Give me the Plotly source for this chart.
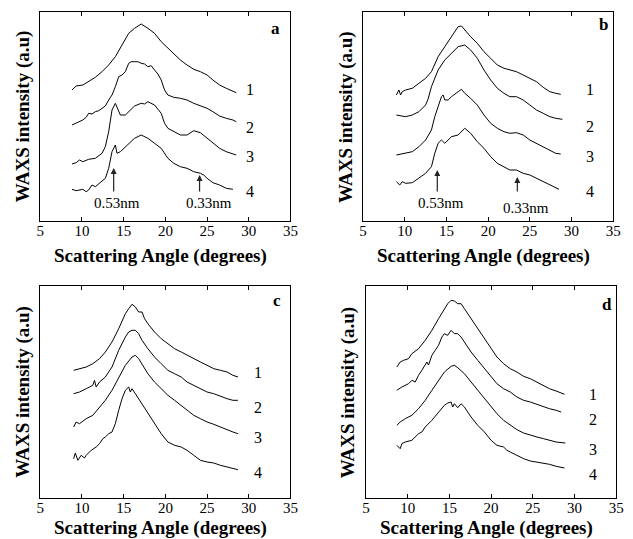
import plotly.graph_objects as go

# ---------------- WAXS patterns (scattering angle in degrees, intensity in a.u., stacked) ----------------
# Panel a
a1_x = [8.8, 9.3, 10.1, 10.8, 11.6, 12.4, 13.2, 14.0, 14.8, 15.6, 16.3, 17.1, 17.9, 18.7, 19.5, 20.3, 21.0, 21.8, 22.6, 23.4, 24.2, 25.0, 25.7, 26.5, 27.3, 28.1, 28.5]
a1_y = [131.0, 135.0, 136.0, 139.3, 143.7, 149.3, 156.0, 164.3, 176.0, 187.7, 192.7, 197.0, 192.7, 187.7, 179.3, 172.7, 167.7, 161.0, 156.0, 151.7, 149.3, 146.0, 141.0, 136.0, 132.7, 129.3, 128.3]
a2_x = [8.8, 9.5, 10.1, 10.5, 10.8, 11.2, 11.6, 12.0, 12.4, 12.8, 13.2, 13.6, 14.0, 14.4, 14.8, 15.2, 15.6, 15.9, 16.3, 16.7, 17.1, 17.5, 17.9, 18.3, 18.7, 19.1, 19.5, 19.9, 20.3, 21.0, 21.8, 22.6, 23.4, 24.2, 25.0, 25.7, 26.5, 27.3, 28.1, 28.5]
a2_y = [96.0, 98.3, 101.0, 103.7, 107.7, 107.0, 109.3, 110.3, 112.7, 115.0, 121.0, 126.0, 134.3, 144.3, 146.0, 149.3, 157.7, 159.3, 159.3, 159.3, 157.7, 157.0, 154.3, 155.3, 151.0, 147.0, 141.0, 131.0, 126.0, 123.7, 122.7, 121.0, 117.7, 115.0, 112.7, 109.3, 105.0, 102.7, 101.0, 99.3]
a3_x = [8.8, 9.3, 9.7, 10.1, 10.8, 11.6, 12.4, 12.8, 13.2, 13.6, 14.0, 14.2, 14.6, 15.2, 15.6, 16.3, 17.1, 17.5, 17.9, 18.7, 19.5, 19.9, 20.3, 21.0, 21.8, 22.6, 23.0, 23.4, 24.2, 25.0, 25.7, 26.5, 27.3, 28.1, 28.5]
a3_y = [57.0, 58.3, 61.0, 59.3, 61.7, 62.7, 67.7, 74.3, 89.3, 111.0, 117.7, 114.3, 106.0, 106.0, 109.3, 115.0, 117.7, 117.0, 119.3, 116.0, 107.7, 97.7, 92.7, 89.3, 86.0, 86.0, 88.3, 90.3, 88.3, 82.7, 77.7, 72.7, 69.3, 67.0, 66.0]
a4_x = [8.8, 9.3, 10.1, 10.5, 10.8, 11.2, 11.6, 12.4, 12.8, 13.2, 13.6, 14.0, 14.2, 14.6, 15.2, 15.6, 16.3, 17.1, 17.9, 18.7, 19.5, 20.3, 21.0, 21.8, 22.6, 23.4, 24.2, 24.6, 25.0, 25.7, 26.5, 27.3, 28.1]
a4_y = [31.7, 30.3, 31.7, 29.3, 31.0, 36.0, 34.3, 39.3, 42.7, 52.7, 69.3, 76.0, 67.7, 69.3, 74.3, 77.7, 82.7, 86.0, 82.7, 77.7, 72.7, 62.7, 57.7, 54.3, 52.7, 49.3, 47.7, 46.0, 42.7, 38.3, 36.0, 32.7, 31.7]

# Panel b
b1_x = [9.0, 9.3, 9.5, 9.7, 10.1, 10.9, 11.7, 12.5, 13.2, 14.0, 14.8, 15.6, 16.4, 16.8, 17.2, 17.9, 18.7, 19.5, 20.3, 21.1, 21.9, 22.6, 23.4, 24.2, 25.0, 25.8, 26.6, 27.4, 28.1, 28.7]
b1_y = [126.0, 131.0, 126.0, 129.3, 131.0, 132.7, 137.7, 142.7, 149.3, 164.3, 174.3, 184.3, 194.3, 195.0, 191.0, 184.3, 177.7, 169.3, 162.7, 156.0, 152.7, 151.0, 149.3, 146.0, 142.7, 139.3, 133.7, 129.3, 127.7, 126.7]
b2_x = [9.0, 9.5, 10.1, 10.9, 11.7, 12.5, 12.8, 13.2, 14.0, 14.8, 15.6, 16.4, 17.2, 17.9, 18.7, 19.5, 20.3, 21.1, 21.9, 22.6, 23.4, 24.2, 25.0, 25.8, 26.6, 27.4, 28.1, 28.9]
b2_y = [106.0, 105.0, 104.3, 106.0, 109.3, 116.0, 122.0, 134.3, 151.0, 161.0, 167.7, 174.3, 176.0, 171.0, 162.7, 151.0, 141.0, 132.7, 127.7, 124.3, 124.3, 121.0, 116.0, 111.0, 107.7, 104.3, 102.7, 101.7]
b3_x = [9.0, 9.5, 10.1, 10.9, 11.7, 12.5, 13.2, 13.6, 14.0, 14.4, 14.6, 14.8, 15.2, 15.6, 16.4, 16.8, 17.2, 17.9, 18.7, 19.5, 20.3, 21.1, 21.9, 22.6, 23.4, 24.2, 25.0, 25.8, 26.6, 27.4, 28.1, 28.7]
b3_y = [66.0, 67.0, 67.7, 69.3, 74.3, 81.0, 91.0, 104.3, 114.3, 124.3, 126.0, 121.0, 121.0, 124.3, 129.3, 131.7, 127.7, 122.7, 116.0, 106.0, 97.7, 92.7, 89.3, 87.7, 88.3, 86.0, 81.0, 77.7, 74.3, 71.0, 67.7, 67.0]
b4_x = [9.0, 9.4, 9.7, 10.1, 10.9, 11.7, 12.5, 13.2, 13.6, 14.0, 14.4, 14.8, 15.2, 15.6, 16.4, 16.8, 17.2, 17.9, 18.7, 19.5, 20.3, 21.1, 21.9, 22.6, 23.4, 24.2, 25.0, 25.8, 26.6, 27.4, 28.1, 28.5]
b4_y = [39.3, 36.0, 39.3, 37.7, 38.3, 42.7, 47.7, 54.3, 67.7, 77.7, 81.0, 77.7, 81.0, 84.3, 86.0, 89.3, 92.7, 87.7, 79.3, 72.7, 64.3, 57.7, 54.3, 51.0, 51.0, 47.7, 46.0, 42.7, 39.3, 36.0, 32.7, 31.7]

# Panel c
c1_x = [9.0, 9.7, 10.5, 11.3, 12.1, 12.8, 13.6, 14.4, 14.8, 15.2, 15.6, 16.0, 16.4, 16.8, 17.2, 17.5, 17.9, 18.7, 19.5, 20.3, 21.1, 21.9, 22.6, 23.4, 24.2, 25.0, 25.8, 26.6, 27.4, 28.1, 28.7]
c1_y = [127.7, 129.3, 131.0, 134.3, 139.3, 146.0, 156.0, 169.3, 177.7, 184.3, 189.3, 193.7, 191.0, 186.0, 186.0, 179.3, 174.3, 166.0, 159.3, 154.3, 149.3, 146.0, 142.7, 139.3, 136.0, 132.7, 129.3, 127.7, 126.0, 122.7, 121.0]
c2_x = [9.0, 9.7, 10.5, 11.3, 11.5, 11.7, 12.1, 12.8, 13.6, 14.4, 15.2, 15.6, 16.0, 16.4, 16.8, 17.2, 17.9, 18.7, 19.5, 20.3, 21.1, 21.9, 22.6, 23.4, 24.2, 25.0, 25.8, 26.6, 27.4, 28.1, 28.7]
c2_y = [104.3, 106.0, 109.3, 112.7, 117.7, 111.0, 116.0, 121.0, 131.0, 147.7, 161.0, 166.0, 167.7, 167.7, 164.3, 157.7, 149.3, 141.0, 134.3, 127.7, 124.3, 121.0, 116.0, 112.7, 109.3, 106.0, 104.3, 101.7, 99.3, 97.7, 97.7]
c3_x = [9.0, 9.3, 9.7, 10.5, 11.3, 12.1, 12.8, 13.6, 14.4, 15.2, 16.0, 16.4, 16.8, 17.2, 17.9, 18.7, 19.5, 20.3, 21.1, 21.9, 22.6, 23.4, 24.2, 25.0, 25.8, 26.6, 27.4, 28.1, 28.7]
c3_y = [71.0, 76.0, 74.3, 79.3, 82.7, 91.0, 97.7, 107.7, 121.0, 132.7, 141.0, 142.7, 139.3, 134.3, 124.3, 116.0, 109.3, 102.7, 97.7, 92.7, 87.7, 82.7, 79.3, 76.0, 73.7, 71.0, 67.7, 66.0, 64.3]
c4_x = [9.0, 9.2, 9.5, 9.9, 10.3, 10.5, 11.1, 11.7, 12.1, 12.5, 12.8, 13.2, 13.6, 14.0, 14.4, 14.8, 15.2, 15.6, 15.8, 16.0, 16.4, 17.2, 17.9, 18.7, 19.5, 20.3, 21.1, 21.9, 22.6, 23.4, 24.2, 25.0, 25.8, 26.6, 27.4, 28.1, 28.7]
c4_y = [39.3, 45.0, 37.7, 42.7, 40.0, 42.7, 47.7, 51.0, 54.3, 59.3, 61.0, 64.3, 66.0, 74.3, 87.7, 99.3, 107.7, 111.0, 106.0, 109.3, 104.3, 94.3, 84.3, 74.3, 64.3, 56.0, 52.7, 51.0, 47.7, 42.7, 37.7, 36.0, 35.0, 32.7, 31.0, 29.3, 28.3]

# Panel d
d1_x = [8.7, 9.1, 9.5, 10.1, 10.5, 11.3, 12.1, 12.9, 13.7, 14.1, 14.4, 14.8, 15.2, 15.6, 16.0, 16.4, 16.8, 17.6, 18.4, 19.2, 20.0, 20.7, 21.5, 22.3, 23.1, 23.9, 24.7, 25.5, 26.3, 27.0, 27.8, 28.8]
d1_y = [131.0, 136.0, 137.7, 139.3, 144.3, 149.3, 157.7, 167.7, 179.3, 184.3, 189.3, 194.3, 197.7, 197.0, 194.3, 194.3, 189.3, 179.3, 169.3, 159.3, 149.3, 141.0, 134.3, 129.3, 126.0, 121.7, 119.3, 116.0, 112.7, 109.3, 107.0, 103.7]
d2_x = [8.7, 9.3, 10.1, 10.5, 10.9, 11.3, 11.7, 12.1, 12.3, 12.5, 12.9, 13.3, 13.7, 14.1, 14.4, 14.8, 15.2, 15.6, 16.0, 16.4, 16.8, 17.6, 18.4, 19.2, 20.0, 20.7, 21.5, 22.3, 23.1, 23.9, 24.7, 25.5, 26.3, 27.0, 27.8, 28.4]
d2_y = [107.7, 111.0, 114.3, 117.7, 116.0, 122.7, 127.7, 132.7, 136.0, 133.0, 142.7, 147.7, 152.7, 161.0, 164.3, 162.7, 167.7, 164.3, 164.3, 161.0, 156.0, 146.0, 137.7, 129.3, 121.0, 114.3, 109.3, 106.0, 101.0, 97.7, 96.0, 93.7, 91.0, 89.3, 87.7, 86.0]
d3_x = [8.7, 9.1, 9.7, 10.5, 11.3, 12.1, 12.9, 13.7, 14.4, 15.2, 15.6, 16.0, 16.8, 17.6, 18.4, 19.2, 20.0, 20.7, 21.5, 22.3, 23.1, 23.9, 24.7, 25.5, 26.3, 27.0, 27.8, 28.9]
d3_y = [72.7, 76.0, 79.3, 82.7, 89.3, 97.7, 107.7, 117.7, 126.0, 131.7, 132.7, 130.3, 124.3, 116.0, 107.7, 99.3, 91.0, 84.3, 77.7, 72.7, 68.3, 65.0, 62.7, 61.0, 59.3, 57.7, 56.0, 55.0]
d4_x = [8.7, 9.1, 9.3, 9.7, 10.5, 11.1, 11.3, 11.7, 12.1, 12.9, 13.7, 14.4, 14.8, 15.2, 15.4, 15.6, 16.0, 16.4, 16.8, 17.6, 18.4, 19.2, 20.0, 20.7, 21.5, 21.9, 22.3, 23.1, 23.9, 24.7, 25.5, 26.3, 27.0, 27.8, 28.8]
d4_y = [52.7, 49.3, 54.3, 56.0, 57.7, 62.7, 64.3, 66.0, 71.0, 77.7, 86.0, 92.7, 95.0, 96.0, 91.0, 94.3, 90.3, 94.3, 91.0, 81.0, 72.7, 66.0, 57.7, 52.7, 51.0, 47.7, 46.0, 42.7, 39.3, 37.0, 36.0, 35.0, 33.7, 31.7, 30.0]

panel_letters = ["a", "b", "c", "d"]
curve_numbers = ["1", "2", "3", "4"]
angle_ticks = [5, 10, 15, 20, 25, 30, 35]

# number labels beside the curves: (x, y) per panel
num_label_x = [30.1, 32.2, 31.1, 32.2]
num_label_y = [[131, 93, 64, 29], [131, 94, 64, 29], [126, 91, 61, 26], [104, 79, 49, 24]]
letter_pos = [(33.2, 192), (33.8, 196), (33.4, 198), (33.9, 194)]

# d-spacing markers (panels a and b): angle, arrow tail, arrow head, label x, label y, text
spacing_marks = {
    0: [(13.8, 28, 53, 14.2, 18, "0.53nm"), (24.1, 28, 46, 25.2, 18, "0.33nm")],
    1: [(13.9, 28, 51, 14.4, 18, "0.53nm"), (23.5, 28, 44, 24.5, 13, "0.33nm")],
}

panels = [
    [(a1_x, a1_y), (a2_x, a2_y), (a3_x, a3_y), (a4_x, a4_y)],
    [(b1_x, b1_y), (b2_x, b2_y), (b3_x, b3_y), (b4_x, b4_y)],
    [(c1_x, c1_y), (c2_x, c2_y), (c3_x, c3_y), (c4_x, c4_y)],
    [(d1_x, d1_y), (d2_x, d2_y), (d3_x, d3_y), (d4_x, d4_y)],
]

W, H = 633, 539
# plot frames in pixels: left, right, top, bottom
frames = [(37, 292, 12, 221), (366, 621, 12, 221), (37, 292, 286, 498), (369, 624, 286, 498)]
y_ranges = [[0, 209], [0, 209], [0, 212], [0, 212]]
xtitle_gap = [35, 35, 30, 30]

SERIF = "Liberation Serif"

fig = go.Figure()
layout = dict(
    width=W, height=H,
    margin=dict(l=0, r=0, t=0, b=0),
    paper_bgcolor="white", plot_bgcolor="white",
    showlegend=False,
    font=dict(family=SERIF, color="black"),
)

annotations = []
for i, curves in enumerate(panels):
    n = "" if i == 0 else str(i + 1)
    xa, ya = "x" + n, "y" + n
    for cx, cy in curves:
        fig.add_trace(go.Scatter(x=cx, y=cy, mode="lines", xaxis=xa, yaxis=ya,
                                 line=dict(color="black", width=1), hoverinfo="skip"))
    l, r, t, b = frames[i]
    layout["xaxis" + n] = dict(
        domain=[l / W, r / W], anchor=ya, range=[5, 35],
        tickvals=angle_ticks, ticks="inside", ticklen=4, tickcolor="black",
        showline=True, linecolor="black", linewidth=1, mirror="allticks",
        showgrid=False, zeroline=False,
        tickfont=dict(family=SERIF, size=15, color="black"), ticklabelstandoff=-4,
    )
    layout["yaxis" + n] = dict(
        domain=[1 - b / H, 1 - t / H], anchor=xa, range=y_ranges[i],
        showticklabels=False, ticks="", showline=True, linecolor="black",
        linewidth=1, mirror=True, showgrid=False, zeroline=False,
    )
    # axis titles
    annotations.append(dict(
        text="<b>Scattering Angle (degrees)</b>", xref="paper", yref="paper",
        x=(l + r) / 2 / W - 0.008, y=1 - (b + xtitle_gap[i]) / H, showarrow=False,
        font=dict(family=SERIF, size=19, color="black"), xanchor="center", yanchor="middle",
    ))
    annotations.append(dict(
        text="<b>WAXS intensity (a.u)</b>", xref="paper", yref="paper",
        x=(l - 18) / W, y=1 - (t + b) / 2 / H, showarrow=False, textangle=-90,
        font=dict(family=SERIF, size=19, color="black"), xanchor="center", yanchor="middle",
    ))
    # curve numbers
    for k, lab in enumerate(curve_numbers):
        annotations.append(dict(
            text=lab, xref=xa, yref=ya, x=num_label_x[i], y=num_label_y[i][k],
            showarrow=False, font=dict(family=SERIF, size=16, color="black"),
        ))
    # panel letter
    lx, ly = letter_pos[i]
    annotations.append(dict(
        text="<b>" + panel_letters[i] + "</b>", xref=xa, yref=ya, x=lx, y=ly,
        showarrow=False, font=dict(family=SERIF, size=17, color="black"),
    ))
    # d-spacing arrows and labels
    for ang, tail, head, tx, ty, txt in spacing_marks.get(i, []):
        annotations.append(dict(
            text="", xref=xa, yref=ya, x=ang, y=head, axref=xa, ayref=ya, ax=ang, ay=tail,
            showarrow=True, arrowhead=2, arrowsize=1, arrowwidth=1.2, arrowcolor="#222",
        ))
        annotations.append(dict(
            text=txt, xref=xa, yref=ya, x=tx, y=ty, showarrow=False,
            font=dict(family=SERIF, size=15, color="black"),
        ))

layout["annotations"] = annotations
fig.update_layout(**layout)
fig.write_html("out.html")
